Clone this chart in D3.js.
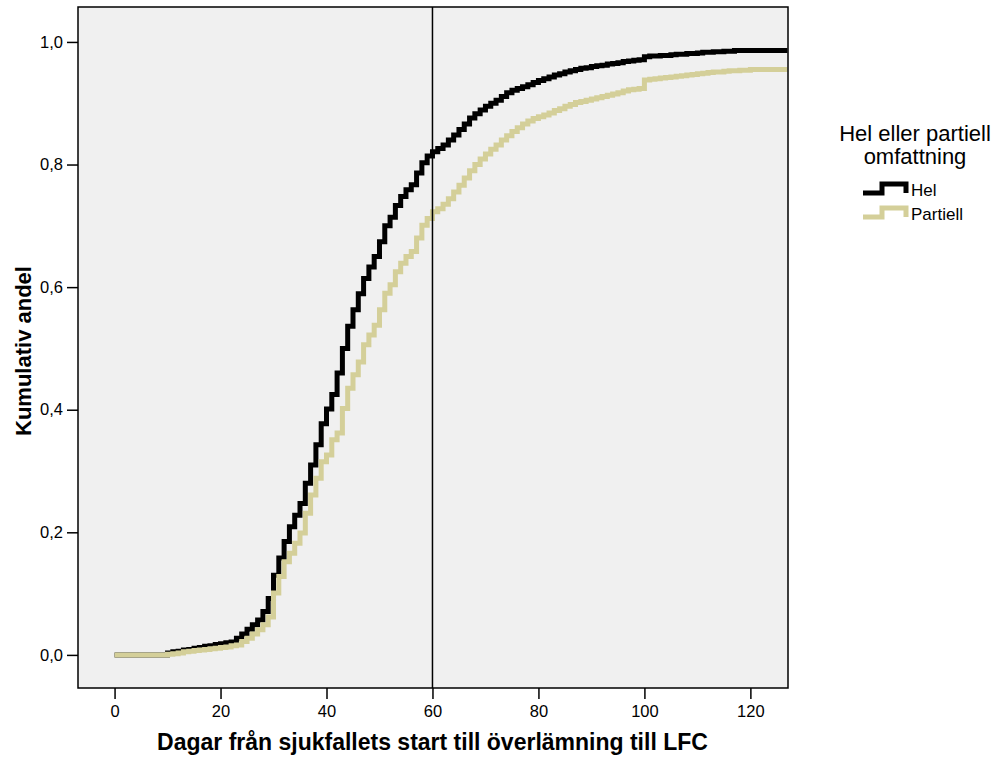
<!DOCTYPE html>
<html>
<head>
<meta charset="utf-8">
<script src="https://cdn.jsdelivr.net/npm/d3@7"></script>
<style>
  body { margin: 0; background: #fff; }
  svg { display: block; font-family: "Liberation Sans", Arial, sans-serif; }
</style>
</head>
<body>
<div id="chart"></div>
<script>
// Kumulativ andel per dag (index = dag 0..127)
const helValues = [
  0, 0, 0, 0, 0, 0, 0, 0, 0, 0,
  0.003, 0.005, 0.006, 0.008, 0.009, 0.011, 0.012, 0.014, 0.015, 0.017,
  0.018, 0.020, 0.021, 0.027, 0.034, 0.042, 0.049, 0.057, 0.071, 0.092,
  0.130, 0.158, 0.185, 0.209, 0.228, 0.247, 0.280, 0.310, 0.343, 0.377,
  0.401, 0.425, 0.460, 0.500, 0.536, 0.563, 0.589, 0.614, 0.633, 0.650,
  0.674, 0.700, 0.714, 0.733, 0.748, 0.759, 0.767, 0.786, 0.803, 0.814,
  0.821, 0.826, 0.832, 0.840, 0.848, 0.857, 0.866, 0.876, 0.883, 0.889,
  0.895, 0.900, 0.905, 0.911, 0.917, 0.921, 0.924, 0.927, 0.930, 0.934,
  0.937, 0.940, 0.943, 0.946, 0.948, 0.951, 0.953, 0.955, 0.957, 0.958,
  0.960, 0.961, 0.962, 0.964, 0.965, 0.966, 0.968, 0.969, 0.970, 0.971,
  0.976, 0.977, 0.977, 0.978, 0.978, 0.979, 0.980, 0.980, 0.981, 0.981,
  0.982, 0.983, 0.983, 0.984, 0.984, 0.985, 0.985, 0.986, 0.986, 0.986,
  0.986, 0.986, 0.986, 0.986, 0.986, 0.986, 0.986, 0.986
];
const partiellValues = [
  0, 0, 0, 0, 0, 0, 0, 0, 0, 0,
  0.001, 0.002, 0.003, 0.005, 0.006, 0.007, 0.008, 0.009, 0.010, 0.011,
  0.012, 0.013, 0.015, 0.016, 0.022, 0.027, 0.034, 0.041, 0.049, 0.062,
  0.101, 0.128, 0.152, 0.166, 0.182, 0.199, 0.231, 0.261, 0.288, 0.315,
  0.326, 0.351, 0.362, 0.402, 0.435, 0.457, 0.478, 0.506, 0.522, 0.538,
  0.563, 0.590, 0.604, 0.625, 0.639, 0.650, 0.658, 0.680, 0.701, 0.712,
  0.723, 0.728, 0.735, 0.744, 0.755, 0.766, 0.778, 0.790, 0.800, 0.809,
  0.817, 0.825, 0.832, 0.840, 0.847, 0.854, 0.860, 0.866, 0.871, 0.875,
  0.878, 0.881, 0.884, 0.888, 0.891, 0.895, 0.898, 0.901, 0.903, 0.905,
  0.907, 0.909, 0.911, 0.913, 0.915, 0.917, 0.920, 0.922, 0.923, 0.924,
  0.938, 0.939, 0.940, 0.941, 0.942, 0.943, 0.944, 0.945, 0.946, 0.947,
  0.948, 0.949, 0.950, 0.951, 0.951, 0.952, 0.953, 0.953, 0.954, 0.954,
  0.955, 0.955, 0.955, 0.955, 0.955, 0.955, 0.955, 0.955
];
const seriesNames = ["Hel", "Partiell"];
const seriesColors = ["#000000", "#d4cf99"];
const xTicks = [0, 20, 40, 60, 80, 100, 120];
const yTicks = [0, 0.2, 0.4, 0.6, 0.8, 1.0];
const refLineDay = 60;

const W = 1000, H = 757;
const plot = { left: 78, right: 788, top: 7, bottom: 688 };

const svg = d3.select("#chart").append("svg")
  .attr("width", W).attr("height", H);

const x = d3.scaleLinear().domain([-6.9, 127.1]).range([plot.left, plot.right]);
const y = d3.scaleLinear().domain([-0.054, 1.057]).range([plot.bottom, plot.top]);

// bakgrund
svg.append("rect")
  .attr("x", plot.left).attr("y", plot.top)
  .attr("width", plot.right - plot.left).attr("height", plot.bottom - plot.top)
  .attr("fill", "#f0f0f0");

svg.append("clipPath").attr("id", "clip")
  .append("rect")
  .attr("x", plot.left).attr("y", plot.top)
  .attr("width", plot.right - plot.left).attr("height", plot.bottom - plot.top);

// linjer
const line = d3.line()
  .x((d, i) => x(i))
  .y(d => y(d))
  .curve(d3.curveStepAfter);

const g = svg.append("g").attr("clip-path", "url(#clip)");
[helValues, partiellValues].forEach((vals, k) => {
  g.append("path")
    .datum(vals)
    .attr("d", line)
    .attr("fill", "none")
    .attr("stroke", seriesColors[k])
    .attr("stroke-width", 5)
    .attr("stroke-linejoin", "miter");
});

// referenslinje vid 60 dagar
svg.append("line")
  .attr("x1", x(refLineDay)).attr("x2", x(refLineDay))
  .attr("y1", plot.top).attr("y2", plot.bottom)
  .attr("stroke", "#000").attr("stroke-width", 1.5);

// ram
svg.append("rect")
  .attr("x", plot.left).attr("y", plot.top)
  .attr("width", plot.right - plot.left).attr("height", plot.bottom - plot.top)
  .attr("fill", "none").attr("stroke", "#000").attr("stroke-width", 1.5);

// axlar
const fmt = d => d3.format(".1f")(d).replace(".", ",");

const xAxis = svg.append("g")
  .attr("transform", `translate(0,${plot.bottom})`)
  .call(d3.axisBottom(x).tickValues(xTicks).tickSize(11).tickPadding(6));
xAxis.select(".domain").remove();

const yAxis = svg.append("g")
  .attr("transform", `translate(${plot.left},0)`)
  .call(d3.axisLeft(y).tickValues(yTicks).tickFormat(fmt).tickSize(11).tickPadding(4));
yAxis.select(".domain").remove();

[xAxis, yAxis].forEach(a => {
  a.selectAll(".tick line").attr("stroke", "#000").attr("stroke-width", 1.5);
  a.selectAll(".tick text")
    .attr("fill", "#000")
    .style("font-size", "16.5px")
    .style("font-family", "'Liberation Sans', Arial, sans-serif");
});

// axeltitlar
svg.append("text")
  .attr("x", x(60)).attr("y", 750)
  .attr("text-anchor", "middle")
  .style("font-size", "23px").style("font-weight", "bold")
  .text("Dagar från sjukfallets start till överlämning till LFC");

svg.append("text")
  .attr("transform", `translate(31,351) rotate(-90)`)
  .attr("text-anchor", "middle")
  .style("font-size", "22px").style("font-weight", "bold")
  .text("Kumulativ andel");

// förklaring
const legend = svg.append("g");
legend.append("text")
  .attr("x", 915).attr("y", 141)
  .attr("text-anchor", "middle")
  .style("font-size", "22px")
  .text("Hel eller partiell");
legend.append("text")
  .attr("x", 915).attr("y", 164)
  .attr("text-anchor", "middle")
  .style("font-size", "22px")
  .text("omfattning");

seriesNames.forEach((name, i) => {
  const yy = 193 + i * 24;
  legend.append("path")
    .attr("d", `M863,${yy} H882 V${yy - 9} H906 V${yy}`)
    .attr("fill", "none")
    .attr("stroke", seriesColors[i])
    .attr("stroke-width", 5);
  legend.append("text")
    .attr("x", 911).attr("y", yy + 3)
    .style("font-size", "17px")
    .text(name);
});
</script>
</body>
</html>
